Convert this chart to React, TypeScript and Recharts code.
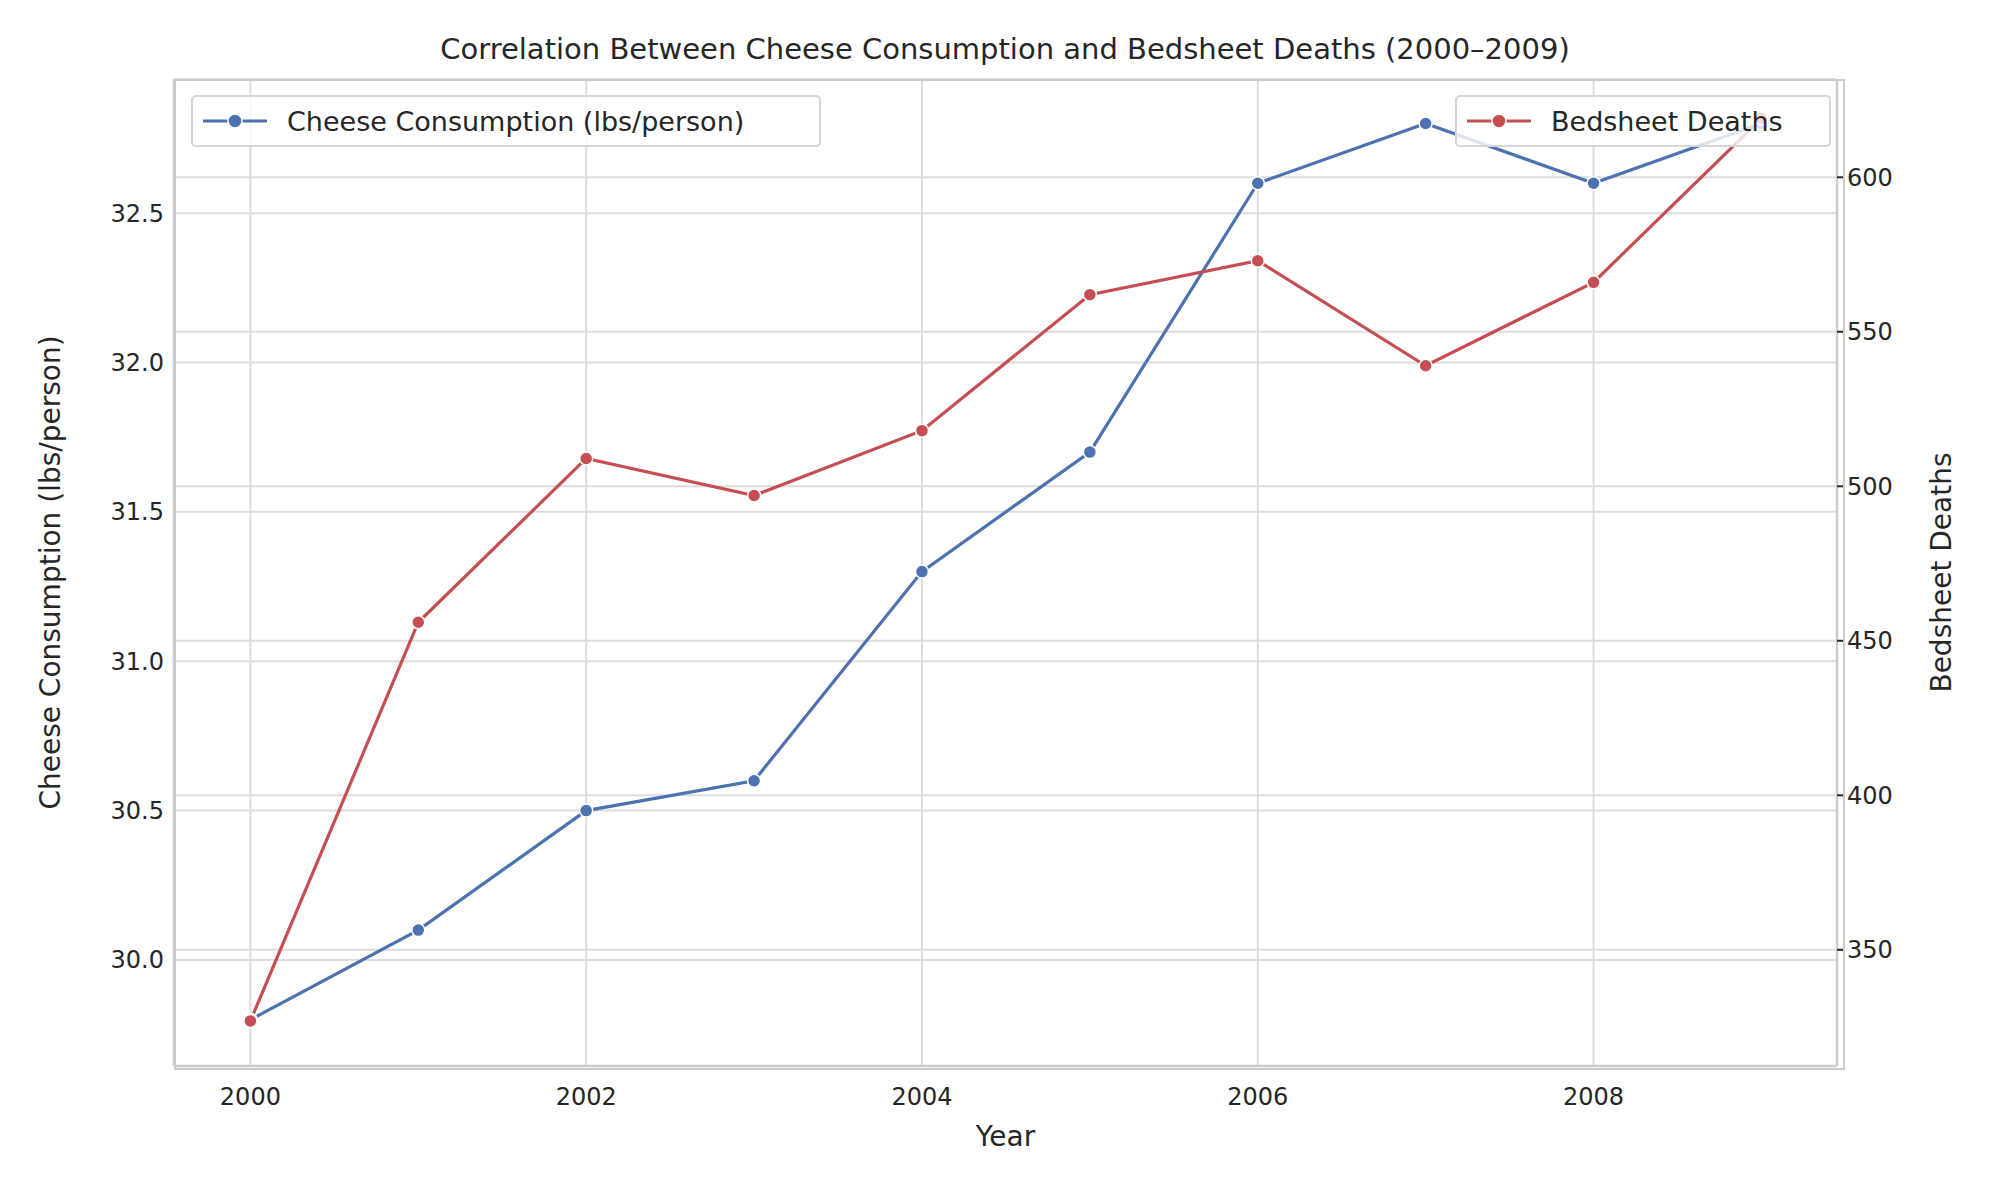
import React from "react";
import { LineChart, Line, XAxis, YAxis, CartesianGrid, ReferenceLine } from "recharts";

const years = [2000, 2001, 2002, 2003, 2004, 2005, 2006, 2007, 2008, 2009];
const cheese = [29.8, 30.1, 30.5, 30.6, 31.3, 31.7, 32.6, 32.8, 32.6, 32.8];
const deaths = [327, 456, 509, 497, 518, 562, 573, 539, 566, 619];
const xTicks = [2000, 2002, 2004, 2006, 2008];
const leftTicks = [30.0, 30.5, 31.0, 31.5, 32.0, 32.5];
const rightTicks = [350, 400, 450, 500, 550, 600];

const data = years.map((y, i) => ({ year: y, cheese: cheese[i], deaths: deaths[i] }));
const BLUE = "#4c72b0";
const RED = "#c44e52";
const FONT = "DejaVu Sans, sans-serif";
const tick = { fill: "#262626", fontSize: 24, fontFamily: FONT };

const LegendBox = ({ left, width, color, label }: any) => (
  <div style={{ position: "absolute", left, top: 95, width, height: 52, boxSizing: "border-box", border: "2px solid #d6d6d6", borderRadius: 5, background: "rgba(255,255,255,0.8)", display: "flex", alignItems: "center", fontFamily: FONT, fontSize: 27, color: "#262626", whiteSpace: "nowrap" }}>
    <svg width={64} height={20} style={{ marginLeft: 10, marginRight: 20 }}>
      <line x1={0} y1={10} x2={64} y2={10} stroke={color} strokeWidth={3.2} />
      <circle cx={32} cy={10} r={7} fill={color} stroke="#fff" strokeWidth={1.5} />
    </svg>
    {label}
  </div>
);

export default function App() {
  return (
    <div style={{ position: "absolute", left: 0, top: 0, width: 2000, height: 1200, background: "#fff" }}>
      <div style={{ position: "absolute", top: 32, width: 2000, paddingLeft: 10, boxSizing: "border-box", textAlign: "center", fontFamily: FONT, fontSize: 29, color: "#262626" }}>
        Correlation Between Cheese Consumption and Bedsheet Deaths (2000–2009)
      </div>
      <LineChart width={2000} height={1200} data={data} margin={{ top: 79, right: 55, bottom: 50, left: 74 }}>
        <CartesianGrid yAxisId="left" stroke="#dcdcdc" strokeWidth={2} verticalValues={xTicks} />
        {rightTicks.map((t) => (
          <ReferenceLine key={t} yAxisId="right" y={t} stroke="#dcdcdc" strokeWidth={2} />
        ))}
        <XAxis dataKey="year" type="number" domain={[1999.545, 2009.45]} ticks={xTicks} allowDataOverflow
          tick={tick} tickLine={false} axisLine={{ stroke: "#cccccc", strokeWidth: 2.5 }} height={84} tickMargin={16}
          label={{ value: "Year", position: "insideBottom", offset: 4, fill: "#262626", fontSize: 28, fontFamily: FONT }} />
        <YAxis yAxisId="left" domain={[29.645, 32.949]} ticks={leftTicks} allowDataOverflow width={100}
          tickFormatter={(v: number) => v.toFixed(1)} tick={tick} tickLine={false} tickMargin={4} axisLine={{ stroke: "#cccccc", strokeWidth: 2.5 }}
          label={{ value: "Cheese Consumption (lbs/person)", angle: -90, position: "insideLeft", offset: -24, style: { textAnchor: "middle" }, fill: "#262626", fontSize: 28, fontFamily: FONT }} />
        <YAxis yAxisId="right" orientation="right" domain={[312.4, 631.8]} ticks={rightTicks} allowDataOverflow width={108}
          tick={tick} tickLine={{ stroke: "#262626", strokeWidth: 2 }} tickSize={8} axisLine={{ stroke: "#cccccc", strokeWidth: 2.5 }}
          label={{ value: "Bedsheet Deaths", angle: -90, position: "insideRight", offset: 4, style: { textAnchor: "middle" }, fill: "#262626", fontSize: 28, fontFamily: FONT }} />
        <Line yAxisId="left" dataKey="cheese" stroke={BLUE} strokeWidth={3.2} isAnimationActive={false}
          dot={{ r: 6.5, fill: BLUE, stroke: "#fff", strokeWidth: 1.5 }} />
        <Line yAxisId="right" dataKey="deaths" stroke={RED} strokeWidth={3.2} isAnimationActive={false}
          dot={{ r: 6.5, fill: RED, stroke: "#fff", strokeWidth: 1.5 }} />
      </LineChart>
      <div style={{ position: "absolute", left: 174, top: 79, width: 1671, height: 991, border: "2.5px solid #cccccc", boxSizing: "border-box", pointerEvents: "none" }} />
      <LegendBox left={191} width={630} color={BLUE} label="Cheese Consumption (lbs/person)" />
      <LegendBox left={1455} width={376} color={RED} label="Bedsheet Deaths" />
    </div>
  );
}
